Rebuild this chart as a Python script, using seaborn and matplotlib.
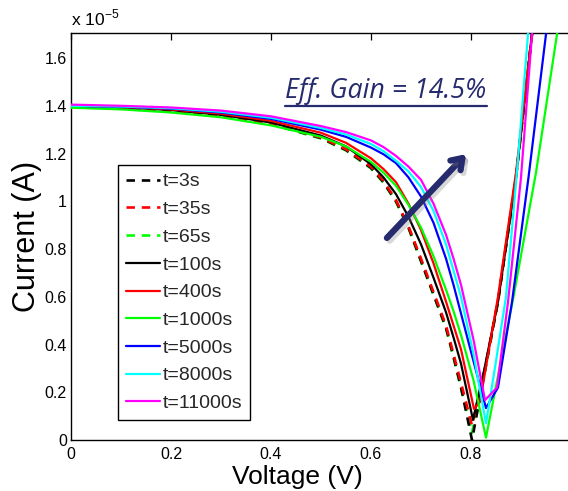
import matplotlib
matplotlib.use("Agg")
import matplotlib.pyplot as plt
import matplotlib.patheffects as pe
from matplotlib.lines import Line2D
from matplotlib.ticker import FuncFormatter, MultipleLocator
import seaborn as sns

# Current magnitude in units of 1e-5 A versus bias voltage, one sweep per soak time
v_early = [0, 0.1, 0.2, 0.3, 0.4, 0.5, 0.55, 0.6, 0.625, 0.65, 0.675, 0.7, 0.725,
           0.75, 0.765, 0.78, 0.802, 0.827, 0.854, 0.89, 0.922, 0.935]
v_late = [0, 0.1, 0.2, 0.3, 0.4, 0.5, 0.55, 0.6, 0.625, 0.65, 0.675, 0.7, 0.725,
          0.75, 0.765, 0.78, 0.805]

v_3s = v_early
i_3s = [1.400, 1.393, 1.380, 1.360, 1.325, 1.265, 1.215, 1.140, 1.080, 1.000, 0.890,
        0.750, 0.610, 0.470, 0.350, 0.220, 0.000, 0.280, 0.580, 1.100, 1.700, 1.950]

v_35s = v_early
i_35s = [1.400, 1.393, 1.380, 1.360, 1.326, 1.267, 1.218, 1.145, 1.085, 1.005, 0.895,
         0.760, 0.620, 0.480, 0.360, 0.240, 0.060, 0.290, 0.585, 1.100, 1.700, 1.950]

v_65s = v_early
i_65s = [1.398, 1.391, 1.378, 1.358, 1.323, 1.263, 1.213, 1.138, 1.078, 0.998, 0.888,
         0.748, 0.608, 0.468, 0.345, 0.218, 0.030, 0.280, 0.580, 1.100, 1.700, 1.950]

v_100s = v_early[:16] + [0.804, 0.827, 0.854, 0.89, 0.922, 0.935]
i_100s = [1.400, 1.394, 1.382, 1.362, 1.330, 1.275, 1.230, 1.155, 1.100, 1.030, 0.935,
          0.820, 0.680, 0.535, 0.430, 0.320, 0.084, 0.300, 0.580, 1.100, 1.700, 1.950]

v_400s = v_early[:16] + [0.806, 0.818, 0.854, 0.89, 0.922, 0.935]
i_400s = [1.400, 1.395, 1.385, 1.367, 1.337, 1.287, 1.245, 1.180, 1.135, 1.080, 0.990,
          0.880, 0.740, 0.580, 0.480, 0.380, 0.130, 0.160, 0.600, 1.120, 1.700, 1.950]

v_1000s = v_late + [0.83, 0.855, 0.885, 0.93, 0.972, 0.985]
i_1000s = [1.392, 1.385, 1.372, 1.352, 1.318, 1.270, 1.230, 1.165, 1.120, 1.065, 0.985,
           0.890, 0.770, 0.630, 0.540, 0.440, 0.250, 0.010, 0.280, 0.600, 1.120, 1.700, 1.900]

v_5000s = v_late + [0.83, 0.854, 0.882, 0.915, 0.95, 0.96]
i_5000s = [1.400, 1.396, 1.388, 1.372, 1.345, 1.300, 1.270, 1.225, 1.197, 1.160, 1.100,
           1.020, 0.910, 0.760, 0.650, 0.530, 0.330, 0.134, 0.220, 0.578, 1.100, 1.700, 1.880]

v_8000s = v_late + [0.83, 0.85, 0.87, 0.893, 0.914, 0.92]
i_8000s = [1.400, 1.397, 1.390, 1.375, 1.350, 1.307, 1.280, 1.240, 1.210, 1.170, 1.125,
           1.060, 0.960, 0.820, 0.710, 0.600, 0.360, 0.070, 0.330, 0.600, 1.150, 1.700, 1.870]

v_11000s = v_late + [0.828, 0.852, 0.874, 0.9, 0.922, 0.93]
i_11000s = [1.405, 1.400, 1.393, 1.380, 1.356, 1.315, 1.290, 1.255, 1.227, 1.190, 1.145,
            1.090, 0.990, 0.860, 0.760, 0.650, 0.420, 0.167, 0.220, 0.578, 1.100, 1.700, 1.900]

labels = ["t=3s", "t=35s", "t=65s", "t=100s", "t=400s",
          "t=1000s", "t=5000s", "t=8000s", "t=11000s"]
colors = ["#000000", "#ff0000", "#00ff00", "#000000", "#ff0000",
          "#00ff00", "#0000ff", "#00ffff", "#ff00ff"]
dashed = [True, True, True, False, False, False, False, False, False]
sweeps = [(v_3s, i_3s), (v_35s, i_35s), (v_65s, i_65s), (v_100s, i_100s),
          (v_400s, i_400s), (v_1000s, i_1000s), (v_5000s, i_5000s),
          (v_8000s, i_8000s), (v_11000s, i_11000s)]
SCALE = 1e-5

x_ticks = [0, 0.2, 0.4, 0.6, 0.8]
gain_text = "Eff. Gain = 14.5%"

sns.set_theme(style="white")
plt.rcParams["font.family"] = ["Liberation Sans", "DejaVu Sans"]
plt.rcParams["mathtext.fontset"] = "custom"
plt.rcParams["mathtext.rm"] = "Liberation Sans"

fig = plt.figure(figsize=(5.68, 4.91), dpi=100)
W, H = 568, 491
ax = fig.add_axes([71 / W, (H - 440) / H, 500 / W, 407 / H])

DASH = (0, (3.2, 2.6))
zorders = [2.2, 2.3, 2.1, 2.4, 2.5, 2.6, 2.7, 2.8, 2.9]
for (v, i), lab, c, d, z in zip(sweeps, labels, colors, dashed, zorders):
    sns.lineplot(x=v, y=[k * SCALE for k in i], ax=ax, color=c,
                 linestyle=DASH if d else "-", linewidth=1.9 if d else 1.6,
                 sort=False, estimator=None, zorder=z, legend=False)

ax.set_xlim(0, 1.0)
ax.set_ylim(0, 1.705 * SCALE)
ax.set_xticks(x_ticks)
ax.yaxis.set_major_locator(MultipleLocator(0.2 * SCALE))
ax.xaxis.set_major_formatter(FuncFormatter(lambda x, p: f"{x:g}"))
ax.yaxis.set_major_formatter(FuncFormatter(lambda y, p: f"{round(y / SCALE, 4):g}"))
ax.tick_params(direction="in", length=5, width=0.9, colors="black",
               labelsize=11.5, top=True, right=False)
ax.tick_params(axis="x", pad=5)
ax.tick_params(axis="y", pad=3)
for side in ["left", "bottom", "top"]:
    ax.spines[side].set_color("black")
    ax.spines[side].set_linewidth(1.0)
ax.spines["right"].set_visible(False)

ax.text(0.0, 1.012, r"x 10$^{-5}$", transform=ax.transAxes, ha="left",
        va="bottom", fontsize=12.5, color="black")

ax.set_xlabel("Voltage (V)", fontsize=19, color="black")
ax.set_ylabel("Current (A)", fontsize=22, color="black")
ax.xaxis.set_label_coords((297 - 71) / 500, -0.062)
ax.yaxis.set_label_coords(-0.058, 0.5)

handles = [Line2D([], [], color=c, linewidth=1.9 if d else 1.6,
                  linestyle=DASH if d else "-")
           for c, d in zip(colors, dashed)]
leg = ax.legend(handles, labels, loc="lower left",
                bbox_to_anchor=((118 - 71) / 500, (440 - 420) / 407),
                borderaxespad=0, fontsize=14, frameon=True, fancybox=False,
                framealpha=1, edgecolor="black", handlelength=1.75,
                handletextpad=0.15, labelspacing=0.52, borderpad=0.4)
leg.get_frame().set_linewidth(1.0)

navy = "#262b6e"
ax.annotate("", xy=(0.794, 1.206 * SCALE), xytext=(0.628, 0.838 * SCALE),
            arrowprops=dict(arrowstyle="->,head_length=0.6,head_width=0.42",
                            color=navy, lw=4.5, capstyle="round",
                            path_effects=[pe.SimpleLineShadow(offset=(2, -2), shadow_color="gray", alpha=0.3),
                                          pe.Normal()]),
            zorder=5)

gain = ax.text(0.63, 1.432 * SCALE, gain_text, ha="center", va="baseline",
               fontsize=19.3, style="italic", color=navy,
               family=["Open Sans", "DejaVu Sans"], zorder=5)

fig.canvas.draw()
bb = gain.get_window_extent()
inv = fig.transFigure.inverted()
(x0, y0), (x1, _) = inv.transform([(bb.x0, bb.y0 - 1), (bb.x1, bb.y0)])
fig.add_artist(Line2D([x0, x1], [y0, y0], transform=fig.transFigure,
                      color=navy, linewidth=1.6))

fig.savefig("out.png", dpi=100)
